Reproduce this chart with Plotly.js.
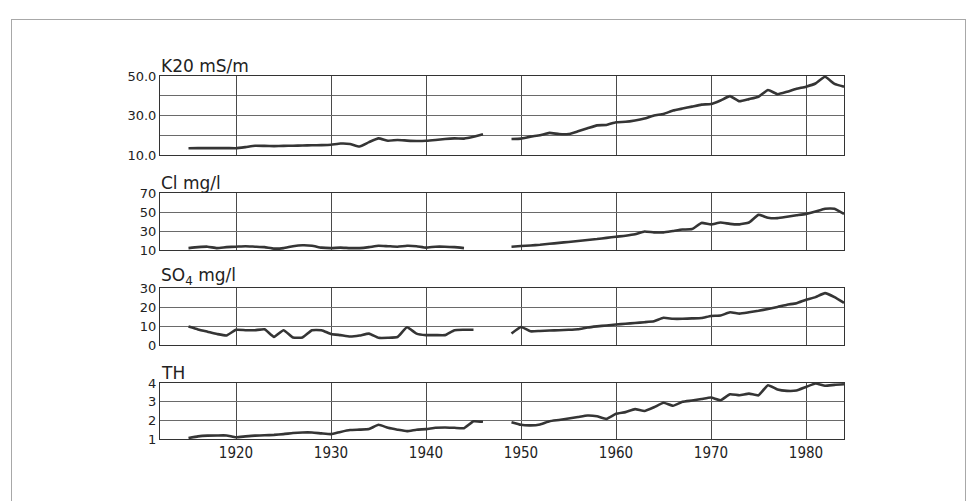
<!DOCTYPE html>
<html>
<head>
<meta charset="utf-8">
<script src="https://cdn.plot.ly/plotly-3.0.1.min.js"></script>
<style>
  html, body { margin: 0; padding: 0; background: #fff; }
  #frame { position: absolute; left: 11px; top: 19px; width: 953px; height: 490px;
           border: 1px solid #a8a8a8; border-bottom: none; }
  #chart { position: absolute; left: 0; top: 0; width: 967px; height: 501px; }
</style>
</head>
<body>
<div id="frame"></div>
<div id="chart"></div>
<script>
// ---- Data ----
const earlyYears = [1915,1916,1917,1918,1919,1920,1921,1922,1923,1924,1925,1926,1927,1928,1929,1930,
                    1931,1932,1933,1934,1935,1936,1937,1938,1939,1940,1941,1942,1943,1944,1945,1946];
const lateYears  = [1949,1950,1951,1952,1953,1954,1955,1956,1957,1958,1959,1960,1961,1962,1963,1964,
                    1965,1966,1967,1968,1969,1970,1971,1972,1973,1974,1975,1976,1977,1978,1979,1980,
                    1981,1982,1983,1984];

// K20 mS/m
const k20Early = [13.4,13.5,13.5,13.5,13.5,13.4,14.0,14.7,14.6,14.5,14.6,14.7,14.8,14.9,15.0,15.2,
                  15.8,15.6,14.3,16.5,18.4,17.2,17.6,17.3,17.1,17.2,17.6,18.1,18.4,18.3,19.2,20.5];
const k20Late  = [18.1,18.3,19.3,20.0,21.2,20.6,20.6,22.0,23.5,25.0,25.2,26.6,26.8,27.5,28.5,30.0,
                  30.8,32.5,33.5,34.5,35.5,35.8,37.6,39.8,37.2,38.3,39.5,42.9,40.8,42.0,43.5,44.6,
                  46.2,49.6,46.0,44.6];

// Cl mg/l
const clEarly = [12,13,13.5,12,13,13.5,14,13.5,13,11.5,12,14,15,14.5,12.5,12,
                 12.5,12,12,13,14.5,14,13.5,14.5,14,12.5,13.5,13.5,13,12];
const clLate  = [13.5,14.2,14.8,15.5,16.5,17.5,18.5,19.5,20.5,21.5,22.8,24,25,26.5,29.5,28.5,
                 28.5,30,31.5,32,38.5,37,39,37.5,37,39,47,44,43.5,45,46.5,48,
                 50.5,53.5,53.5,48];

// SO4 mg/l
const so4Early = [9.7,8.2,7.0,5.8,5.0,8.0,7.8,7.8,8.3,4.3,7.8,4.0,4.0,7.8,7.8,5.8,
                  5.2,4.5,5.0,6.0,3.8,3.8,4.2,9.3,6.0,5.2,5.2,5.2,7.8,8.0,8.0];
const so4Late  = [6.0,9.5,7.2,7.4,7.6,7.8,8.0,8.3,9.2,9.8,10.3,10.8,11.2,11.6,12.0,12.5,
                  14.3,13.8,13.8,14.0,14.2,15.3,15.5,17.2,16.5,17.2,18.0,19.0,20.0,21.2,22.0,23.8,
                  25.2,27.3,25.2,22.2];

// TH
const thEarly = [1.05,1.14,1.18,1.19,1.19,1.09,1.14,1.18,1.20,1.22,1.26,1.32,1.35,1.35,1.30,1.26,
                 1.38,1.48,1.50,1.53,1.76,1.60,1.50,1.42,1.50,1.53,1.60,1.62,1.60,1.58,1.95,1.92];
const thLate  = [1.90,1.76,1.73,1.78,1.95,2.02,2.10,2.18,2.26,2.22,2.08,2.35,2.44,2.60,2.50,2.70,
                 2.94,2.78,2.99,3.06,3.14,3.22,3.08,3.40,3.34,3.43,3.34,3.88,3.65,3.58,3.60,3.79,
                 3.97,3.85,3.90,3.93];

const xTickVals = [1920,1930,1940,1950,1960,1970,1980];

const panelTitles = ['K20 mS/m', 'Cl mg/l', 'SO<sub>4</sub> mg/l', 'TH'];
const k20Ticks = [10,30,50];
const k20TickText = ['10.0','30.0','50.0'];
const k20MinorTicks = [20,40];
const clTicks = [10,30,50,70];
const so4Ticks = [0,10,20,30];
const thTicks = [1,2,3,4];

// ---- Build ----
const lineStyle = {color: '#353535', width: 2.6, shape: 'spline', smoothing: 0.4};
const panels = [
  {e: k20Early, l: k20Late},
  {e: clEarly, l: clLate},
  {e: so4Early, l: so4Late},
  {e: thEarly, l: thLate}
];
const traces = [];
panels.forEach((p, i) => {
  const xa = i === 0 ? 'x' : 'x' + (i + 1);
  const ya = i === 0 ? 'y' : 'y' + (i + 1);
  traces.push({x: earlyYears.slice(0, p.e.length), y: p.e, xaxis: xa, yaxis: ya,
               mode: 'lines', line: lineStyle, showlegend: false, hoverinfo: 'skip'});
  traces.push({x: lateYears.slice(0, p.l.length), y: p.l, xaxis: xa, yaxis: ya,
               mode: 'lines', line: lineStyle, showlegend: false, hoverinfo: 'skip'});
});

const H = 501;
const domains = [[76,155],[193,250],[288,345],[383,439]].map(([t,b]) => [1 - b/H, 1 - t/H]);

const tickFont = {family: 'DejaVu Sans, Liberation Sans, Arial, sans-serif', size: 13, color: '#222'};
const xFont = {family: 'DejaVu Sans Condensed, Liberation Sans Narrow, Arial Narrow, sans-serif', size: 15, color: '#222'};

function xAxis(i, showLabels) {
  return {
    domain: [0, 1], range: [1912, 1984], anchor: i === 0 ? 'y' : 'y' + (i + 1),
    tickvals: xTickVals, showticklabels: showLabels, tickfont: xFont, ticks: '',
    showgrid: true, gridcolor: '#4a4a4a', gridwidth: 1, zeroline: false,
    showline: true, linecolor: '#333', linewidth: 1, mirror: true,
    fixedrange: true
  };
}
function yAxis(i, range, vals, text, minorVals) {
  const ax = {
    domain: domains[i], range: range, anchor: i === 0 ? 'x' : 'x' + (i + 1),
    tickvals: vals, ticktext: text, tickfont: tickFont, ticks: '',
    showgrid: true, gridcolor: '#6a6a6a', gridwidth: 1, zeroline: false,
    showline: true, linecolor: '#333', linewidth: 1, mirror: true,
    fixedrange: true
  };
  if (minorVals) {
    ax.minor = {tickvals: minorVals, showgrid: true, gridcolor: '#6a6a6a', gridwidth: 1, ticks: ''};
  }
  return ax;
}

const layout = {
  width: 967, height: 501,
  margin: {l: 160, r: 123, t: 0, b: 0},
  paper_bgcolor: 'rgba(0,0,0,0)', plot_bgcolor: 'rgba(0,0,0,0)',
  xaxis: xAxis(0, false), xaxis2: xAxis(1, false), xaxis3: xAxis(2, false), xaxis4: xAxis(3, true),
  yaxis: yAxis(0, [10, 50], k20Ticks, k20TickText, k20MinorTicks),
  yaxis2: yAxis(1, [10, 70], clTicks, clTicks.map(String)),
  yaxis3: yAxis(2, [0, 30], so4Ticks, so4Ticks.map(String)),
  yaxis4: yAxis(3, [1, 4], thTicks, thTicks.map(String)),
  annotations: panelTitles.map((t, i) => ({
    text: t, xref: 'paper', yref: 'paper', x: 0, y: domains[i][1],
    xanchor: 'left', yanchor: 'bottom', showarrow: false, borderpad: 0, yshift: -1,
    font: {family: 'DejaVu Sans, Liberation Sans, Arial, sans-serif', size: 17, color: '#222'}
  }))
};

Plotly.newPlot('chart', traces, layout, {staticPlot: true, displayModeBar: false});
</script>
</body>
</html>
